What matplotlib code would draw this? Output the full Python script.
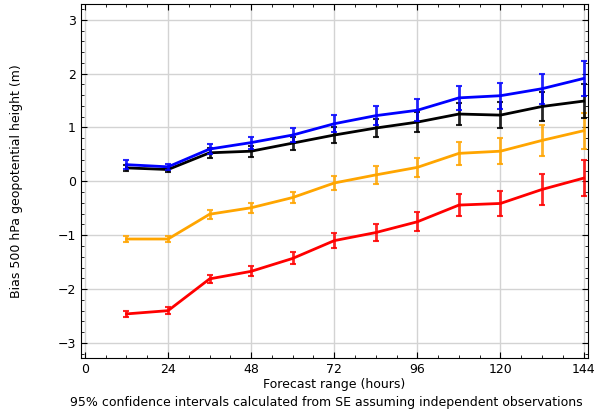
import matplotlib
matplotlib.use("Agg")
import matplotlib.pyplot as plt
from matplotlib.ticker import MultipleLocator

plt.rcParams["font.size"] = 9

hours = [12, 24, 36, 48, 60, 72, 84, 96, 108, 120, 132, 144]

blue = [0.31, 0.27, 0.60, 0.72, 0.86, 1.07, 1.22, 1.32, 1.55, 1.59, 1.72, 1.91]
blue_err = [0.08, 0.05, 0.10, 0.11, 0.135, 0.16, 0.18, 0.20, 0.225, 0.245, 0.28, 0.33]

black = [0.25, 0.22, 0.53, 0.56, 0.71, 0.86, 0.99, 1.10, 1.25, 1.23, 1.39, 1.49]
black_err = [0.06, 0.05, 0.09, 0.10, 0.12, 0.15, 0.17, 0.19, 0.21, 0.24, 0.27, 0.31]

orange = [-1.07, -1.07, -0.61, -0.49, -0.30, -0.03, 0.12, 0.26, 0.52, 0.56, 0.76, 0.94]
orange_err = [0.05, 0.05, 0.08, 0.09, 0.11, 0.13, 0.16, 0.18, 0.21, 0.24, 0.28, 0.33]

red = [-2.46, -2.40, -1.81, -1.67, -1.43, -1.10, -0.95, -0.75, -0.44, -0.41, -0.15, 0.06]
red_err = [0.06, 0.06, 0.08, 0.09, 0.11, 0.14, 0.16, 0.18, 0.20, 0.23, 0.28, 0.33]

series = [
    (red, red_err, "red"),
    (orange, orange_err, "orange"),
    (black, black_err, "black"),
    (blue, blue_err, "blue"),
]

fig = plt.figure(figsize=(5.94, 4.13), dpi=100)
ax = fig.add_axes([0.136, 0.133, 0.854, 0.857])

for vals, errs, col in series:
    ax.plot(hours, vals, color=col, lw=2, zorder=3)
    ax.errorbar(hours, vals, yerr=errs, fmt="none", ecolor=col,
                elinewidth=2, capsize=2.5, capthick=1.5, alpha=0.85, zorder=3)

ax.set_xlim(-1.2, 145.3)
ax.set_ylim(-3.28, 3.29)
ax.xaxis.set_major_locator(MultipleLocator(24))
ax.xaxis.set_minor_locator(MultipleLocator(6))
ax.yaxis.set_major_locator(MultipleLocator(1))
ax.yaxis.set_minor_locator(MultipleLocator(0.2))
ax.tick_params(which="both", direction="in", top=True, right=True)
ax.tick_params(which="major", length=4)
ax.tick_params(which="minor", length=2)
ax.grid(True, which="major", color="#d3d3d3", lw=1)
ax.set_axisbelow(True)

ax.set_xlabel("Forecast range (hours)", labelpad=1.5)
ax.set_ylabel("Bias 500 hPa geopotential height (m)", labelpad=25)
fig.text(0.549, 0.025, "95% confidence intervals calculated from SE assuming independent observations",
         ha="center", va="center", fontsize=9)

fig.savefig("out.png", dpi=100)
